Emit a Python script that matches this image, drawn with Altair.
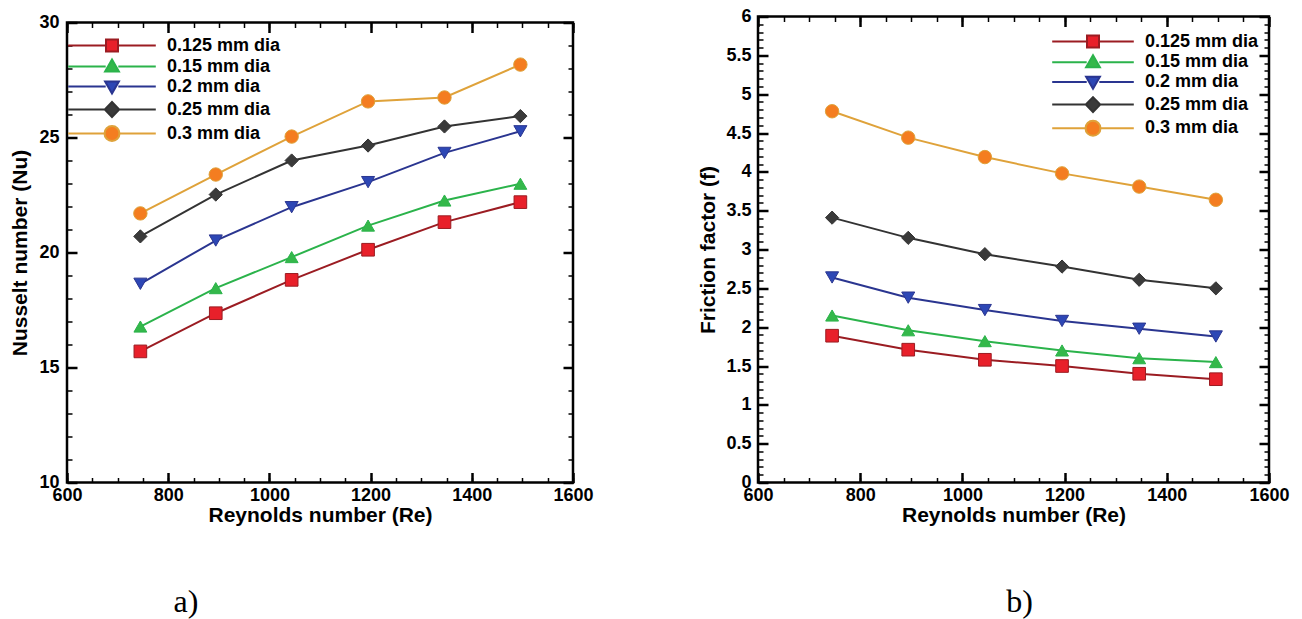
import altair as alt
import pandas as pd

# ---------------- data ----------------
re_values = [745, 894, 1044, 1195, 1346, 1496]
series_names = ["0.125 mm dia", "0.15 mm dia", "0.2 mm dia", "0.25 mm dia", "0.3 mm dia"]

nu_0125 = [15.70, 17.36, 18.81, 20.12, 21.32, 22.19]
nu_015 = [16.78, 18.45, 19.80, 21.17, 22.26, 22.99]
nu_02 = [18.64, 20.52, 21.97, 23.06, 24.33, 25.27]
nu_025 = [20.70, 22.52, 24.00, 24.65, 25.48, 25.93]
nu_03 = [21.70, 23.39, 25.04, 26.57, 26.74, 28.17]

f_0125 = [1.89, 1.71, 1.58, 1.50, 1.40, 1.33]
f_015 = [2.15, 1.96, 1.82, 1.70, 1.60, 1.55]
f_02 = [2.64, 2.38, 2.22, 2.08, 1.98, 1.88]
f_025 = [3.41, 3.15, 2.94, 2.78, 2.61, 2.50]
f_03 = [4.78, 4.44, 4.19, 3.98, 3.81, 3.64]

re_ticks = [600, 800, 1000, 1200, 1400, 1600]
nu_ticks = [10, 15, 20, 25, 30]
f_ticks = [0, 0.5, 1, 1.5, 2, 2.5, 3, 3.5, 4, 4.5, 5, 5.5, 6]

re_minor = list(range(600, 1601, 50))
nu_minor = list(range(10, 31, 1))
f_minor = [round(i * 0.1, 1) for i in range(0, 61)]

# ---------------- styles ----------------
line_colors = ["#9b1c22", "#2bb34b", "#2a3590", "#333333", "#dfa23a"]
marker_colors = ["#e8202a", "#34b84a", "#2d47b5", "#3a3a3a", "#f47d20"]
marker_shapes = ["square", "triangle-up", "triangle-down", "diamond", "circle"]
marker_sizes = [160, 180, 180, 210, 250]

FONT = "Liberation Sans"


def legend_paths(L):
    a = f"M{-L},0H-1.05M1.05,0H{L}"
    return [
        a + "M-1,-1H1V1H-1Z",
        a + "M0,-1.15L1.15,0.85H-1.15Z",
        a + "M0,1.15L1.15,-0.85H-1.15Z",
        a + "M0,-1.25L1.2,0L0,1.25L-1.2,0Z",
        a + "M-1.25,0A1.25 1.25 0 1 0 1.25,0A1.25 1.25 0 1 0 -1.25,0Z",
    ]


def long_df(ys):
    rows = []
    for name, vals in zip(series_names, ys):
        for r, v in zip(re_values, vals):
            rows.append({"Re": r, "val": v, "series": name})
    return pd.DataFrame(rows)


def tick_axis(orient, values, size, width, offset):
    return alt.Axis(orient=orient, values=values, offset=offset, ticks=True,
                    tickSize=size, tickWidth=width, tickColor="black",
                    labels=False, domain=False, grid=False, title=None)


def panel(df, ydomain, y_major, y_minor, ytitle, yfmt, W, H, lg, caption, cap_dx,
          ylabpad, ytitlepad):
    xs = alt.Scale(domain=[600, 1600], nice=False, zero=False)
    ys = alt.Scale(domain=ydomain, nice=False, zero=False)
    base = alt.Chart(df)

    xlab = alt.Axis(orient="bottom", values=re_ticks, format="d", title="Reynolds number (Re)",
                    ticks=False, tickSize=0, domain=False, grid=False, labelPadding=4,
                    labelFlush=False, labelOverlap=False, titlePadding=0)
    ylab = alt.Axis(orient="left", values=y_major, format=yfmt, title=ytitle,
                    ticks=False, tickSize=0, domain=False, grid=False, labelPadding=ylabpad,
                    labelFlush=False, labelOverlap=False, titlePadding=ytitlepad)

    stroke_sc = alt.Scale(domain=series_names, range=line_colors)
    fill_sc = alt.Scale(domain=series_names, range=marker_colors)

    lines = base.mark_line(strokeWidth=2).encode(
        x=alt.X("Re:Q", scale=xs, axis=xlab),
        y=alt.Y("val:Q", scale=ys, axis=ylab),
        stroke=alt.Stroke("series:N", scale=stroke_sc, legend=None),
        detail="series:N",
    )
    points = base.mark_point(filled=True, opacity=1, strokeWidth=1).encode(
        x=alt.X("Re:Q", scale=xs, axis=None),
        y=alt.Y("val:Q", scale=ys, axis=None),
        fill=alt.Fill("series:N", scale=fill_sc, legend=None),
        stroke=alt.Stroke("series:N", scale=stroke_sc, legend=None),
        shape=alt.Shape("series:N", scale=alt.Scale(domain=series_names, range=marker_shapes), legend=None),
        size=alt.Size("series:N", scale=alt.Scale(domain=series_names, range=marker_sizes), legend=None),
    )

    def tick_layer(xo, yo, xv, yv, size, width):
        return base.mark_point(opacity=0).encode(
            x=alt.X("Re:Q", scale=xs, axis=tick_axis(xo, xv, size, width, -H)),
            y=alt.Y("val:Q", scale=ys, axis=tick_axis(yo, yv, size, width, -W)),
        )

    t1 = tick_layer("top", "right", re_ticks, y_major, 10, 2.5)
    t2 = tick_layer("bottom", "left", re_ticks, y_major, 10, 2.5)
    t3 = tick_layer("top", "right", re_minor, y_minor, 5, 1.5)
    t4 = tick_layer("bottom", "left", re_minor, y_minor, 5, 1.5)

    leg = alt.Legend(orient="none", legendX=lg["x"], legendY=lg["y"], title=None, padding=0,
                     symbolOffset=0, labelOffset=lg["labelOffset"], rowPadding=lg["rowPadding"],
                     labelFont=FONT, labelFontSize=18, labelFontWeight="bold", labelColor="black",
                     symbolSize=144, symbolStrokeWidth=2, labelLimit=0, labelBaseline="middle")
    legend_layer = base.transform_filter("false").mark_point(
        filled=True, opacity=1, strokeWidth=2, size=144
    ).encode(
        stroke=alt.Stroke("series:N", scale=alt.Scale(domain=series_names, range=line_colors), legend=leg),
        fill=alt.Fill("series:N", scale=alt.Scale(domain=series_names, range=marker_colors), legend=leg),
        shape=alt.Shape("series:N", scale=alt.Scale(domain=series_names, range=legend_paths(lg["L"])), legend=leg),
    )

    return alt.layer(lines, points, t1, t2, t3, t4, legend_layer).resolve_scale(
        stroke="independent", fill="independent", shape="independent", size="independent"
    ).resolve_axis(x="independent", y="independent").properties(
        width=W, height=H,
        title=alt.TitleParams(caption, orient="bottom", anchor="middle", dx=cap_dx, offset=61,
                              font="Liberation Serif", fontSize=32, fontWeight="normal", color="black"),
    )


df_nu = long_df([nu_0125, nu_015, nu_02, nu_025, nu_03])
df_f = long_df([f_0125, f_015, f_02, f_025, f_03])

left = panel(df_nu, [10, 30], nu_ticks, nu_minor, "Nusselt number (Nu)", "d", 506, 460,
             {"x": 36, "y": 14, "labelOffset": 46, "rowPadding": 0, "L": 7.3}, "a)", -134, 8, 8)
right = panel(df_f, [0, 6], f_ticks, f_minor, "Friction factor (f)", "~g", 511, 466,
              {"x": 326, "y": 16, "labelOffset": 43, "rowPadding": -0.3, "L": 6.8}, "b)", 6, 7, 7)

spacer = alt.Chart(pd.DataFrame({"v": [0]})).mark_point(opacity=0).encode(
    x=alt.value(0), y=alt.value(0)
).properties(width=506, height=6, view=alt.ViewBackground(stroke=None))

left_col = alt.vconcat(spacer, left, spacing=0, bounds="flush")

chart = alt.hconcat(left_col, right, spacing=101, bounds="full").resolve_scale(
    x="independent", y="independent", stroke="independent", fill="independent",
    shape="independent", size="independent"
).properties(
    padding={"left": 0, "top": -2.5, "right": 0, "bottom": 0}
).configure_view(
    stroke="black", strokeWidth=2.5
).configure_axis(
    labelFont=FONT, labelFontSize=18, labelFontWeight="bold", labelColor="black",
    titleFont=FONT, titleFontSize=21, titleFontWeight="bold", titleColor="black",
)

chart.save("out.html", embed_options={"renderer": "svg", "actions": False})
